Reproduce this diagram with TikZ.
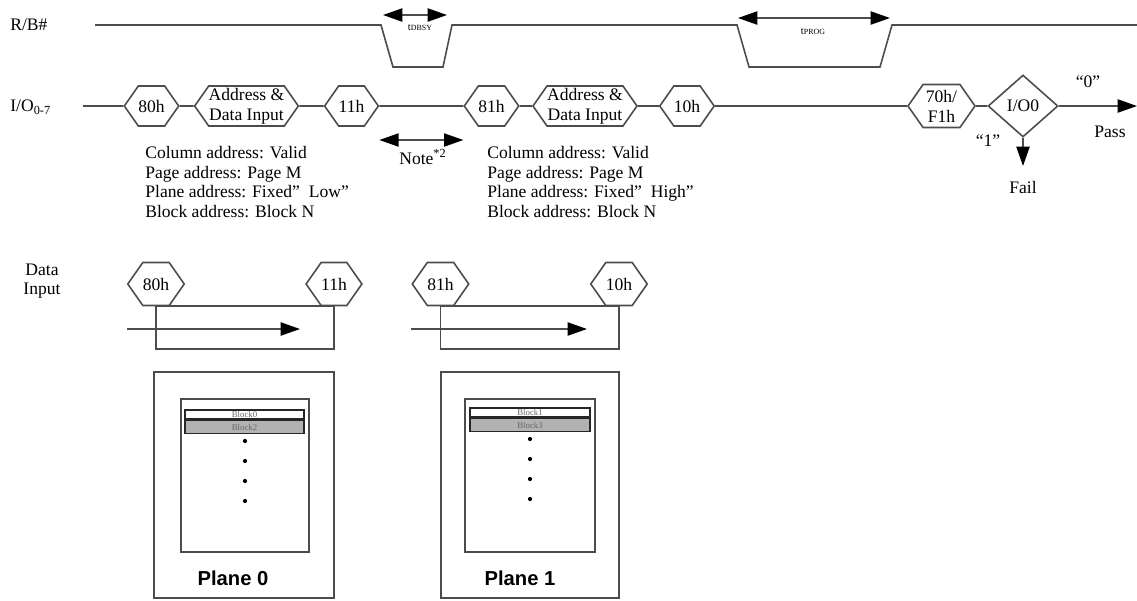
\documentclass[tikz,border=0pt]{standalone}
\usepackage{fontspec}
\setmainfont{Liberation Serif}
\newfontfamily\planefont{Liberation Sans}
\usetikzlibrary{shapes.symbols,shapes.geometric,arrows.meta}

\begin{document}
\begin{tikzpicture}[x=0.02cm, y=-0.02cm,
        wire/.style={draw=black!70, line width=0.9pt},
        hexa/.style={signal, signal to=east and west, signal pointer angle=110,
            draw=black!70, line width=0.9pt, inner sep=0pt, minimum height=0.8cm,
            align=center, font=\fontsize{10}{11.3}\selectfont},
        tip/.style={-{Triangle[length=11pt,width=7.5pt,color=black]}},
        dtip/.style={{Triangle[length=11pt,width=7.5pt,color=black]}-{Triangle[length=11pt,width=7.5pt,color=black]}},
        lbl/.style={inner sep=0pt, font=\fontsize{10}{11.2}\selectfont},
        frame/.style={draw=black!70, line width=1pt},
        blk/.style={draw=black!85, line width=0.9pt, inner sep=0pt,
            text=black!60, font=\fontsize{5}{5}\selectfont}
    ]

        \useasboundingbox (0,0) rectangle (1137,600);

        % R/B# waveform
        \node[lbl, anchor=west] (rb) at (10,25) {R/B\#};
        \draw[wire] (95,25) -- (381,25) -- (393,67) -- (443,67) -- (452,25)
            -- (737,25) -- (749,67) -- (880,67) -- (892,25) -- (1137,25);

        % Busy times
        \coordinate (dbsy0) at (383,15);
        \coordinate (dbsy1) at (447,15);
        \draw[wire, dtip] (dbsy0) -- (dbsy1);
        \node[lbl] (dbsy) at (420,28) {\fontsize{6}{6}\selectfont t\fontsize{4.5}{5}\selectfont DBSY};
        \coordinate (prog0) at (738,18);
        \coordinate (prog1) at (890,18);
        \draw[wire, dtip] (prog0) -- (prog1);
        \node[lbl] (prog) at (813,32) {\fontsize{6}{6}\selectfont t\fontsize{4.5}{5}\selectfont PROG};

        % I/O bus
        \node[lbl, anchor=west] (io) at (10,107) {I/O\textsubscript{0-7}};
        \coordinate (io0) at (83,106);
        \node[hexa, minimum width=1.06cm] (c80) at (151.5,106) {80h};
        \node[hexa, minimum width=2.06cm] (ad1) at (246.5,106) {Address \&\\Data Input};
        \node[hexa, minimum width=1.06cm] (c11) at (351.5,106) {11h};
        \node[hexa, minimum width=1.06cm] (c81) at (491.5,106) {81h};
        \node[hexa, minimum width=2.08cm] (ad2) at (585,106) {Address \&\\Data Input};
        \node[hexa, minimum width=1.0cm] (c10) at (687,106) {10h};
        \node[hexa, minimum width=1.34cm, minimum height=0.86cm] (c70) at (941.5,106) {70h/\\F1h};
        \node[diamond, draw=black!70, line width=0.9pt, minimum width=1.4cm,
            minimum height=1.24cm, inner sep=0pt, font=\fontsize{10}{11}\selectfont] (chk) at (1023,106) {I/O0};
        \coordinate (pass) at (1137,106);
        \coordinate (fail) at (1023,166);
        \draw[wire] (io0) -- (c80) -- (ad1) -- (c11) -- (c81) -- (ad2) -- (c10) -- (c70) -- (chk);
        \draw[wire, tip] (chk) -- (pass);
        \draw[wire, tip] (chk) -- (fail);

        \node[lbl] (zero) at (1088,82) {``0''};
        \node[lbl] (pss) at (1110,132) {Pass};
        \node[lbl] (one) at (988,141) {``1''};
        \node[lbl] (fl) at (1023,187) {Fail};

        % Note *2
        \draw[wire, dtip] (c11.east |- 0,140) -- (c81.west |- 0,140);
        \node[lbl] (note) at (423,157) {Note\textsuperscript{*2}};

        % Addresses
        \node[lbl, anchor=north west, align=left] (addr1) at (145,146)
            {Column address: Valid\\Page address: Page M\\Plane address: Fixed”~ Low”\\Block address: Block N};
        \node[lbl, anchor=north west, align=left] (addr2) at (487,146)
            {Column address: Valid\\Page address: Page M\\Plane address: Fixed”~ High”\\Block address: Block N};

        % Data input
        \node[lbl, align=center] (din) at (42,281) {Data\\Input};
        \node[hexa, minimum width=1.08cm, minimum height=0.86cm] (d80) at (156,284) {80h};
        \node[hexa, minimum width=1.08cm, minimum height=0.86cm] (d11) at (334,284) {11h};
        \node[hexa, minimum width=1.1cm, minimum height=0.86cm] (d81) at (440.5,284) {81h};
        \node[hexa, minimum width=1.08cm, minimum height=0.86cm] (d10) at (619,284) {10h};
        \draw[frame] (d80.south) rectangle ([yshift=-0.86cm]d11.south);
        \draw[frame] (d81.south) rectangle ([yshift=-0.86cm]d10.south);
        \coordinate (end0) at (300,329);
        \coordinate (end1) at (587,329);
        \draw[wire, tip] (d80.west |- end0) -- (end0);
        \draw[wire, tip] (d81.west |- end1) -- (end1);

        % Plane 0
        \draw[frame] (154,372) rectangle (334,598);
        \draw[frame] (181,399) rectangle (309,552);
        \node[blk, minimum width=2.38cm, minimum height=0.18cm] (b0) at (244.5,414.5) {Block0};
        \node[blk, fill=black!30, minimum width=2.38cm, minimum height=0.26cm, anchor=north] (b2) at (b0.south) {Block2};
        \foreach \y in {441,461,481,501}
            \fill (245,\y) circle (1.2pt);
        \node[font=\planefont\bfseries\fontsize{11.5}{13}\selectfont] (pl0) at (233,578) {Plane 0};

        % Plane 1
        \draw[frame] (441,372) rectangle (619,598);
        \draw[frame] (465,399) rectangle (595,552);
        \node[blk, minimum width=2.4cm, minimum height=0.18cm] (b1) at (530,412.5) {Block1};
        \node[blk, fill=black!30, minimum width=2.4cm, minimum height=0.26cm, anchor=north] (b3) at (b1.south) {Block3};
        \foreach \y in {439,459,479,499}
            \fill (530,\y) circle (1.2pt);
        \node[font=\planefont\bfseries\fontsize{11.5}{13}\selectfont] (pl1) at (520,578) {Plane 1};

    \end{tikzpicture}
\end{document}
